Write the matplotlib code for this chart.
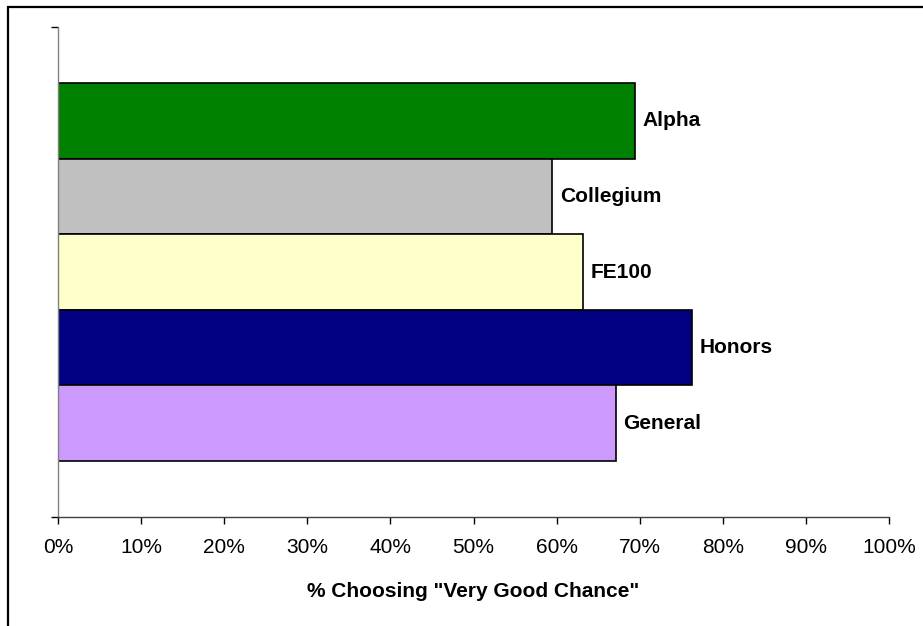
import numpy as np
import matplotlib.pyplot as plt
from matplotlib.patches import Rectangle
from matplotlib.ticker import FuncFormatter

# data
groups = ["Alpha", "Collegium", "FE100", "Honors", "General"]
pct_very_good = [69.4, 59.5, 63.2, 76.3, 67.1]
colors = ["#008000", "#C0C0C0", "#FFFFCC", "#000080", "#CC99FF"]
x_ticks = np.arange(0, 101, 10)

plt.rcParams['font.family'] = ['Liberation Sans', 'DejaVu Sans']

W, H = 923, 626
fig = plt.figure(figsize=(W / 100, H / 100), dpi=100)

# axes in pixel coords: x 58..889, y 27..517
ax = fig.add_axes([58 / W, 1 - 517 / H, (889 - 58) / W, (517 - 27) / H])

# outer frame (runs off the right and bottom edges)
fig.patches.append(Rectangle((8 / W, -0.1), 1.2, 1 - 7 / H + 0.1,
                             transform=fig.transFigure, fill=False,
                             edgecolor="black", linewidth=1.6))

bar_h = 75.6 / 490
n = len(groups)
ypos = [(n // 2 - i) * bar_h for i in range(n)]

ax.barh(ypos, pct_very_good, height=bar_h, color=colors,
        edgecolor="black", linewidth=1.2, zorder=2)

for y, v, name in zip(ypos, pct_very_good, groups):
    ax.text(v + 0.9, y, name, va="center", ha="left",
            fontsize=15, fontweight="bold")

ax.set_xlim(0, 100)
ax.set_ylim(-0.5, 0.5)
ax.set_xticks(x_ticks)
ax.xaxis.set_major_formatter(FuncFormatter(lambda v, p: "%d%%" % v))
ax.set_yticks([-0.5, 0.5])
ax.set_yticklabels([])
ax.tick_params(axis="x", direction="out", length=5, width=1, labelsize=15, pad=10)
ax.tick_params(axis="y", direction="out", length=5, width=1)

for s in ["top", "right"]:
    ax.spines[s].set_visible(False)
ax.spines["left"].set_color("#808080")
ax.spines["left"].set_linewidth(1)
ax.spines["bottom"].set_color("#404040")
ax.spines["bottom"].set_linewidth(1)

ax.set_xlabel('% Choosing "Very Good Chance"', fontsize=15, fontweight="bold", labelpad=18)

fig.savefig("out.png", dpi=100)
